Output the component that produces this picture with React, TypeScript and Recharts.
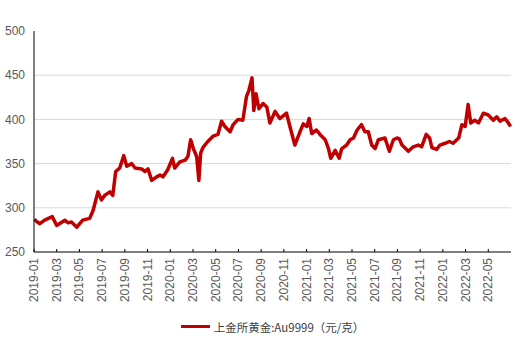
import React from "react"
import { LineChart, Line, XAxis, YAxis, ReferenceLine, Legend } from "recharts"

const dates = [
  "2019-01-02", "2019-01-10", "2019-01-17", "2019-01-30", "2019-02-18", "2019-03-01", "2019-03-23",
  "2019-04-01", "2019-04-10", "2019-04-24", "2019-05-10", "2019-05-29", "2019-06-07", "2019-06-20",
  "2019-06-29", "2019-07-08", "2019-07-22", "2019-07-30", "2019-08-07", "2019-08-18", "2019-08-29",
  "2019-09-06", "2019-09-19", "2019-09-28", "2019-10-16", "2019-10-25", "2019-11-02", "2019-11-12",
  "2019-11-25", "2019-12-04", "2019-12-12", "2019-12-25", "2020-01-07", "2020-01-13", "2020-01-27",
  "2020-02-10", "2020-02-17", "2020-02-24", "2020-03-02", "2020-03-11", "2020-03-17", "2020-03-22",
  "2020-03-28", "2020-04-10", "2020-04-24", "2020-05-07", "2020-05-17", "2020-05-26", "2020-06-09",
  "2020-06-17", "2020-06-30", "2020-07-13", "2020-07-23", "2020-07-29", "2020-08-07", "2020-08-12",
  "2020-08-18", "2020-08-26", "2020-09-06", "2020-09-16", "2020-09-24", "2020-10-08", "2020-10-21",
  "2020-11-08", "2020-11-17", "2020-11-30", "2020-12-14", "2020-12-23", "2021-01-02", "2021-01-08",
  "2021-01-15", "2021-01-28", "2021-02-06", "2021-02-19", "2021-02-27", "2021-03-05", "2021-03-17",
  "2021-03-28", "2021-04-04", "2021-04-17", "2021-04-26", "2021-05-05", "2021-05-15", "2021-05-27",
  "2021-06-05", "2021-06-14", "2021-06-23", "2021-07-02", "2021-07-11", "2021-07-29", "2021-08-10",
  "2021-08-21", "2021-08-31", "2021-09-06", "2021-09-13", "2021-09-30", "2021-10-13", "2021-10-27",
  "2021-11-05", "2021-11-17", "2021-11-26", "2021-12-02", "2021-12-15", "2021-12-24", "2022-01-07",
  "2022-01-19", "2022-01-29", "2022-02-12", "2022-02-20", "2022-02-28", "2022-03-08", "2022-03-15",
  "2022-03-26", "2022-04-05", "2022-04-18", "2022-05-01", "2022-05-15", "2022-05-24", "2022-06-02",
  "2022-06-15", "2022-06-24", "2022-06-30",
]

const prices = [
  287, 284, 282, 286, 290, 280, 286,
  283, 284, 278, 286, 288, 297, 318,
  309, 314, 318, 314, 341, 345, 359,
  347, 350, 345, 344, 341, 344, 331,
  335, 337, 335, 343, 356, 345, 352,
  354, 358, 377, 367, 358, 331, 362,
  368, 375, 381, 383, 398, 392, 386,
  394, 400, 399, 426, 432, 447, 410,
  429, 412, 418, 414, 396, 409, 401,
  407, 392, 371, 386, 395, 392, 401,
  384, 388, 383, 377, 367, 356, 365,
  356, 367, 371, 377, 379, 388, 394,
  386, 386, 371, 367, 377, 379, 364,
  377, 379, 378, 371, 364, 369, 371,
  369, 383, 379, 368, 366, 371, 373,
  375, 373, 379, 394, 392, 417, 396,
  399, 396, 407, 405, 399, 403, 398,
  401, 396, 392,
]

const tickLabels = [
  "2019-01", "2019-03", "2019-05", "2019-07", "2019-09", "2019-11",
  "2020-01", "2020-03", "2020-05", "2020-07", "2020-09", "2020-11",
  "2021-01", "2021-03", "2021-05", "2021-07", "2021-09", "2021-11",
  "2022-01", "2022-03", "2022-05",
]

const yTicks = [250, 300, 350, 400, 450, 500]
const gridValues = [300, 350, 400, 450]

const seriesName = "上金所黄金:Au9999（元/克）"
const red = "#c00000"

// months since 2019-01, with the day as a fraction of the month
function monthIndex(d: string) {
  const [y, m, day] = d.split("-").map(Number)
  const dim = new Date(y, m, 0).getDate()
  return (y - 2019) * 12 + (m - 1) + (day - 1) / dim
}

const data = dates.map((d, i) => ({ t: monthIndex(d), price: prices[i] }))
const xTicks = tickLabels.map((l) => monthIndex(l + "-01"))

function XTick(props: any) {
  const { x, y, payload } = props
  const label = tickLabels[xTicks.indexOf(payload.value)] ?? ""
  return (
    <g>
      <line x1={x} x2={x} y1={y - 3} y2={y} stroke="#000" />
      <text
        x={x + 4}
        y={y + 6}
        transform={`rotate(-90, ${x + 4}, ${y + 6})`}
        textAnchor="end"
        fontSize={12}
        fontFamily="'Liberation Sans', Arial, sans-serif"
        fill="#595959"
      >
        {label}
      </text>
    </g>
  )
}

function LegendContent() {
  return (
    <div style={{ display: "flex", alignItems: "center", justifyContent: "center", height: 29 }}>
      <div style={{ width: 29, height: 3, background: red, marginRight: 4 }} />
      <span
        style={{
          fontSize: 11.5,
          color: "#404040",
          fontFamily: "'Noto Sans CJK SC', 'Liberation Sans', sans-serif",
        }}
      >
        {seriesName}
      </span>
    </div>
  )
}

export default function App() {
  return (
    <div style={{ position: "absolute", left: 0, top: 0, background: "#fff" }}>
      <LineChart width={522} height={341} data={data} margin={{ top: 31, right: 11, left: 0, bottom: 0 }}>
        {gridValues.map((v) => (
          <ReferenceLine key={v} y={v} stroke="#d9d9d9" strokeWidth={1} />
        ))}
        <XAxis
          dataKey="t"
          type="number"
          domain={[0, 42]}
          ticks={xTicks}
          interval={0}
          height={60}
          tickSize={0}
          tickMargin={0}
          tickLine={false}
          axisLine={{ stroke: "#000" }}
          tick={<XTick />}
        />
        <YAxis
          domain={[250, 500]}
          ticks={yTicks}
          interval={0}
          width={34}
          tickSize={0}
          tickMargin={9}
          tickLine={false}
          axisLine={{ stroke: "#000" }}
          tick={{ fontSize: 12, fill: "#595959", fontFamily: "'Liberation Sans Narrow', 'Liberation Sans', sans-serif" }}
        />
        <Legend
          verticalAlign="bottom"
          height={29}
          content={<LegendContent />}
          wrapperStyle={{ left: 34, width: 477 }}
        />
        <Line
          type="linear"
          dataKey="price"
          name={seriesName}
          stroke={red}
          strokeWidth={3.5}
          strokeLinejoin="round"
          dot={false}
          isAnimationActive={false}
        />
      </LineChart>
    </div>
  )
}
